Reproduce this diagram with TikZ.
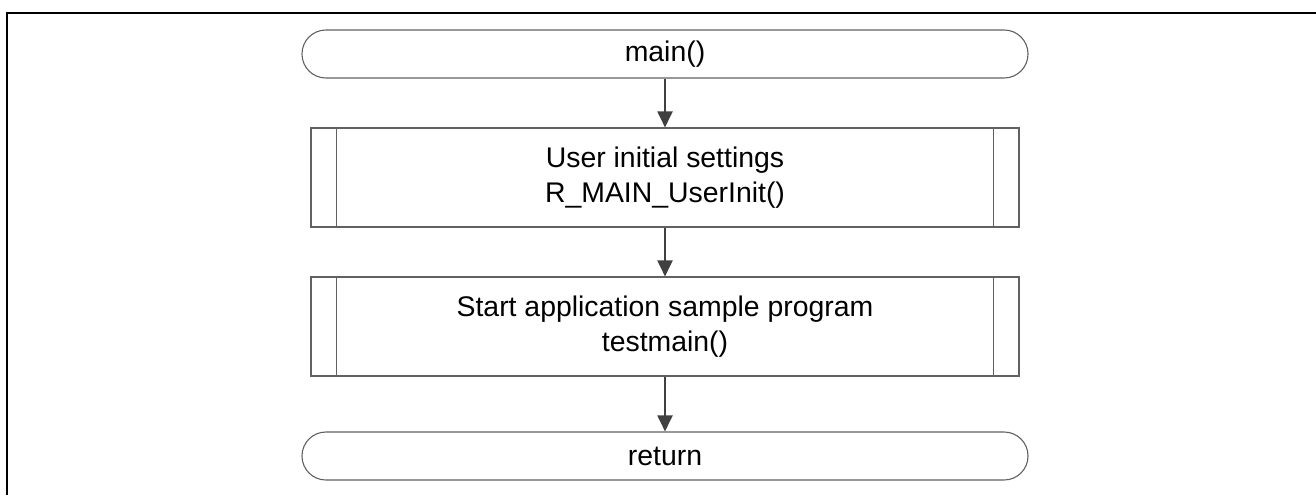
\documentclass[tikz,border=0pt]{standalone}
\usepackage{fontspec}
\setmainfont{Liberation Sans}
\usetikzlibrary{arrows.meta,calc}
\begin{document}
\begin{tikzpicture}[x=1pt,y=-1pt,
  outline/.style={draw=black!62,line width=1.1pt},
  terminal/.style={outline,rectangle,rounded corners=23.9pt,minimum width=726pt,minimum height=48pt,inner sep=0pt,font=\fontsize{28.4}{35}\selectfont},
  subproc/.style={outline,rectangle,minimum width=708pt,minimum height=99pt,inner sep=0pt,align=center,font=\fontsize{28.4}{35}\selectfont},
  flow/.style={draw=black!75,line width=2pt,-{Triangle[width=15pt,length=16pt]}},
  frame/.style={draw=black,line width=2.2pt}
]
\useasboundingbox (0,0) rectangle (1316,495);
\coordinate (ftop) at (1316,13);
\coordinate (fcorner) at (7,13);
\coordinate (fbottom) at (7,495);
\draw[frame] (ftop) -- (fcorner) -- (fbottom);

\node[terminal] (start) at (665,54) {main()};
\node[subproc] (b1) at (665,177.5) {User initial settings\\R\_MAIN\_UserInit()};
\node[subproc] (b2) at (665,326.5) {Start application sample program\\testmain()};
\node[terminal] (ret) at (665,456) {return};

\foreach \b in {b1,b2}{
  \draw[outline] ($(\b.north west)+(26,0)$) -- ($(\b.south west)+(26,0)$);
  \draw[outline] ($(\b.north east)+(-26,0)$) -- ($(\b.south east)+(-26,0)$);
}

\draw[flow] (start) -- (b1);
\draw[flow] (b1) -- (b2);
\draw[flow] (b2) -- (ret);
\end{tikzpicture}
\end{document}
